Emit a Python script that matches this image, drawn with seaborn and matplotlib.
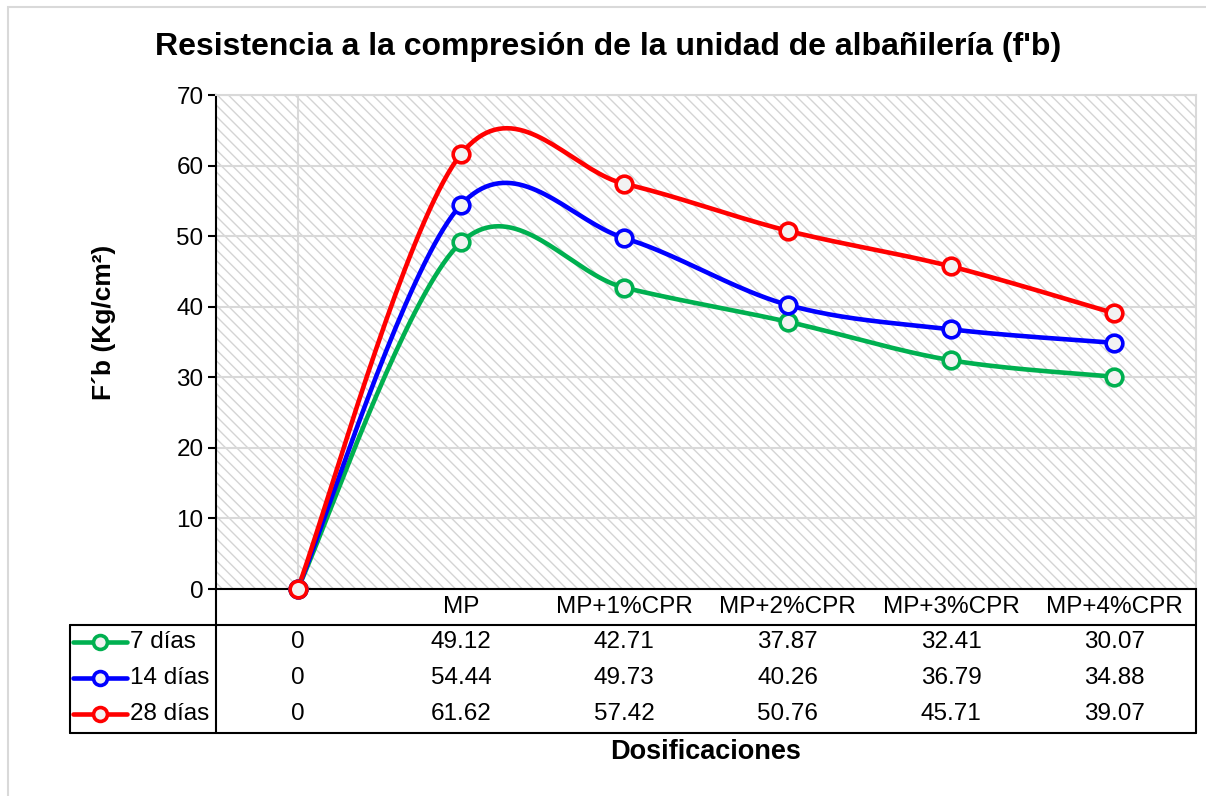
import numpy as np
import pandas as pd
import matplotlib
matplotlib.use('Agg')
import matplotlib.pyplot as plt
from matplotlib.patches import Rectangle
from matplotlib.lines import Line2D
import seaborn as sns

# datos
categorias = ['', 'MP', 'MP+1%CPR', 'MP+2%CPR', 'MP+3%CPR', 'MP+4%CPR']
dias_7 = [0, 49.12, 42.71, 37.87, 32.41, 30.07]
dias_14 = [0, 54.44, 49.73, 40.26, 36.79, 34.88]
dias_28 = [0, 61.62, 57.42, 50.76, 45.71, 39.07]
series = ['7 días', '14 días', '28 días']
colores = ['#00b050', '#0000ff', '#ff0000']
valores = [dias_7, dias_14, dias_28]

sns.set_theme(style='white')
plt.rcParams['font.family'] = ['Liberation Sans', 'DejaVu Sans']
plt.rcParams['hatch.linewidth'] = 1.0
plt.rcParams['text.color'] = 'black'
plt.rcParams['axes.labelcolor'] = 'black'
plt.rcParams['ytick.color'] = 'black'


def suavizar(y, n=40):
    '''
    curva suave tipo Excel (bezier con tangentes de Catmull-Rom)
    '''
    x = np.arange(len(y), dtype=float)
    y = np.asarray(y, dtype=float)
    p = np.column_stack([x, y])
    xs, ys = [], []
    for i in range(len(p) - 1):
        p0 = p[i - 1] if i > 0 else p[i]
        p3 = p[i + 2] if i + 2 < len(p) else p[i + 1]
        c1 = p[i] + (p[i + 1] - p0) / 6
        c2 = p[i + 1] - (p3 - p[i]) / 6
        t = np.linspace(0, 1, n)[:, None]
        b = ((1 - t) ** 3) * p[i] + 3 * ((1 - t) ** 2) * t * c1 \
            + 3 * (1 - t) * t ** 2 * c2 + t ** 3 * p[i + 1]
        xs.extend(b[:, 0])
        ys.extend(b[:, 1])
    return np.array(xs), np.array(ys)


fig = plt.figure(figsize=(12.06, 7.96), dpi=100)
ax = fig.add_axes([216 / 1206, 1 - 589 / 796, 980 / 1206, 494 / 796])

# marco del grafico
fig.patches.append(Rectangle((8 / 1206, -0.1), 1.2, 1 - 7 / 796 + 0.1,
                             transform=fig.transFigure, fill=False,
                             edgecolor='#d9d9d9', lw=1.5))

# fondo rayado
ax.add_patch(Rectangle((0, 0), 1, 1, transform=ax.transAxes, facecolor='white',
                       edgecolor='#d4d4d4', hatch='\\\\\\', lw=0, zorder=0.1))

ax.set_axisbelow(True)
ax.grid(axis='y', color='#d9d9d9', lw=1.5)
ax.axvline(0, color='#d9d9d9', lw=1.5, zorder=0.5)

for nombre, vals, col in zip(series, valores, colores):
    xs, ys = suavizar(vals)
    curva = pd.DataFrame({'x': xs, 'y': ys})
    sns.lineplot(data=curva, x='x', y='y', sort=False, estimator=None, color=col,
                 lw=3.3, ax=ax, zorder=3)
    puntos = pd.DataFrame({'x': np.arange(len(vals)), 'y': vals})
    ax.plot(puntos['x'], puntos['y'], ls='none', marker='o', ms=12,
            mfc='#f2f2f2', mec=col, mew=2.6, zorder=4, clip_on=False)

ax.set_xlim(-0.5, len(categorias) - 0.5)
ax.set_ylim(0, 70)
ax.set_yticks(range(0, 71, 10))
ax.set_xticks([])
ax.set_xlabel('')
ax.set_ylabel('F´b (Kg/cm²)', fontsize=19, fontweight='bold')
ax.yaxis.set_label_coords(-0.102, 0.54)
ax.tick_params(axis='y', labelsize=17.5, length=6, width=1.5, color='black',
               labelcolor='black', direction='out', pad=3, left=True)

for lado in ['top', 'right']:
    ax.spines[lado].set_color('#d9d9d9')
    ax.spines[lado].set_linewidth(1.5)
for lado in ['left', 'bottom']:
    ax.spines[lado].set_color('black')
    ax.spines[lado].set_linewidth(1.5)

# tabla de datos
def ya(py):
    return -(py - 589) / 494

def xa(px):
    return (px - 216) / 980

lineas = [
    ([xa(70), 1], [ya(625), ya(625)]),
    ([xa(70), 1], [ya(733), ya(733)]),
    ([xa(70), xa(70)], [ya(625), ya(733)]),
    ([0, 0], [0, ya(733)]),
    ([1, 1], [0, ya(733)]),
]
for lx, ly in lineas:
    ax.add_line(Line2D(lx, ly, transform=ax.transAxes, color='black', lw=1.5,
                       clip_on=False))

tr = ax.get_xaxis_transform()
for i, cat in enumerate(categorias):
    ax.text(i, ya(607), cat, transform=tr, ha='center', va='center', fontsize=17.5)

filas = [642, 678, 714]
for fila, nombre, vals, col in zip(filas, series, valores, colores):
    for i, v in enumerate(vals):
        txt = '0' if v == 0 else f'{v:.2f}'
        ax.text(i, ya(fila), txt, transform=tr, ha='center', va='center', fontsize=17.5)
    ax.add_line(Line2D([xa(73), xa(127)], [ya(fila), ya(fila)], transform=ax.transAxes,
                       color=col, lw=3.3, clip_on=False))
    ax.add_line(Line2D([xa(100)], [ya(fila)], transform=ax.transAxes, marker='o',
                       ms=10, mfc='#f2f2f2', mec=col, mew=2.6, clip_on=False))
    ax.text(xa(130), ya(fila), nombre, transform=ax.transAxes, ha='left', va='center',
            fontsize=17.5)

ax.text(0.5, ya(752), 'Dosificaciones', transform=ax.transAxes, ha='center',
        va='center', fontsize=19.5, fontweight='bold')

fig.text(608 / 1206, 1 - 47 / 796,
         "Resistencia a la compresión de la unidad de albañilería (f'b)",
         ha='center', va='center', fontsize=23, fontweight='bold')

fig.savefig('out.png', dpi=100)
